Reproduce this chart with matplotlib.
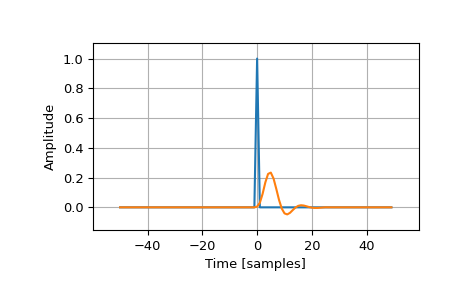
import numpy as np
import matplotlib
matplotlib.use("Agg")
import matplotlib.pyplot as plt

# sample index, centred on the impulse
t = np.arange(-50, 50)

# unit impulse at t = 0
impulse = np.zeros(100)
impulse[50] = 1.0

# filtered response, starting at t = 0
response_tail = [
    0.0048, 0.0307, 0.0906, 0.1679, 0.2246, 0.2335, 0.1935, 0.1238,
    0.0496, -0.0085, -0.0407, -0.0476, -0.0369, -0.0186, -0.0013,
    0.0100, 0.0140, 0.0121, 0.0071, 0.0017, -0.0022, -0.0040, -0.0039,
    -0.0026, -0.0010, 0.0003,
]
response = np.zeros(100)
response[50:50 + len(response_tail)] = response_tail

yticks = [0.0, 0.2, 0.4, 0.6, 0.8, 1.0]

plt.rcParams["font.size"] = 9.4

fig = plt.figure(figsize=(4.65, 2.88), dpi=100)
ax = fig.add_axes([0.2, 0.2014, 0.7, 0.6493])
ax.plot(t, impulse)
ax.plot(t, response)
ax.margins(0.1, 0.1)
ax.set_yticks(yticks)
ax.set_xlabel("Time [samples]")
ax.set_ylabel("Amplitude")
ax.grid(True)

fig.savefig("out.png", dpi=100)
